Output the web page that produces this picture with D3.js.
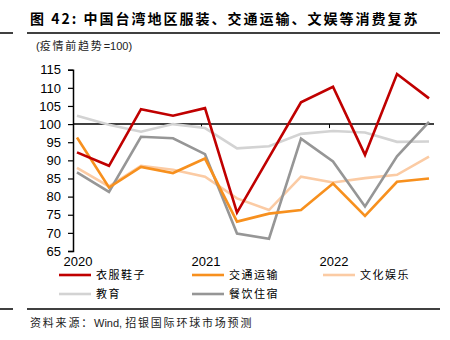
<!DOCTYPE html>
<html>
<head>
<meta charset="utf-8">
<script src="https://cdn.jsdelivr.net/npm/d3@7"></script>
<style>
  body { margin: 0; background: #fff; }
  svg { display: block; font-family: "Liberation Sans", Arial, "Noto Sans CJK SC", sans-serif; }
</style>
</head>
<body>
<script>
// quarters 2020Q1 .. 2022Q4, index 0..11
const quarters = d3.range(12);
const years = ["2020", "2021", "2022"];
const yTicks = [65, 70, 75, 80, 85, 90, 95, 100, 105, 110, 115];

const clothing  = [92.2, 88.5, 104.1, 102.3, 104.4, 75.6, 90.8, 106.0, 110.3, 91.5, 113.8, 107.1];
const transport = [96.3, 82.5, 88.2, 86.5, 90.5, 73.1, 75.3, 76.3, 83.6, 74.7, 84.1, 85.0];
const culture   = [87.9, 82.8, 88.5, 87.4, 85.5, 79.5, 76.3, 85.5, 83.9, 85.1, 86.0, 91.0];
const education = [102.3, 99.8, 97.9, 100.0, 98.9, 93.3, 93.9, 97.3, 98.1, 97.7, 95.1, 95.2];
const catering  = [86.7, 81.3, 96.5, 96.1, 91.7, 69.8, 68.4, 96.0, 89.7, 77.3, 91.1, 100.6];

const seriesNames = ["衣服鞋子", "交通运输", "文化娱乐", "教育", "餐饮住宿"];
const seriesValues = [clothing, transport, culture, education, catering];
const colors = ["#C00000", "#F7901E", "#FBCBA4", "#D3D3D3", "#969696"];

const width = 450, height = 340;
const svg = d3.select("body").append("svg")
  .attr("width", width).attr("height", height);

const cjk = "'Noto Sans CJK SC', sans-serif";
const latin = "'Liberation Sans', Arial, sans-serif";

// title
svg.append("text")
  .attr("x", 30).attr("y", 24)
  .attr("font-size", 14).attr("font-weight", "bold")
  .attr("font-family", cjk)
  .attr("letter-spacing", 2)
  .attr("fill", "#000")
  .text("图 42: 中国台湾地区服装、交通运输、文娱等消费复苏");

// rules
const rule = (y) => {
  svg.append("line").attr("x1", 0).attr("x2", 13).attr("y1", y).attr("y2", y)
    .attr("stroke", "#000").attr("stroke-width", 1.5);
  svg.append("line").attr("x1", 27).attr("x2", 440).attr("y1", y).attr("y2", y)
    .attr("stroke", "#000").attr("stroke-width", 1.5);
};
rule(33);
rule(309);

// mixed text: CJK parts spaced, latin parts not
const mixed = (sel, parts) => {
  parts.forEach(([t, isCjk]) => {
    sel.append("tspan")
      .attr("font-family", isCjk ? cjk : latin)
      .attr("letter-spacing", isCjk ? 1.8 : 0)
      .text(t);
  });
};

const sub = svg.append("text")
  .attr("x", 36).attr("y", 50)
  .attr("font-size", 11).attr("fill", "#222");
mixed(sub, [["(", false], ["疫情前趋势", true], ["=100)", false]]);

// scales
const x = d3.scaleLinear().domain([-0.125, 11]).range([73, 429]);
const y = d3.scaleLinear().domain([65, 115]).range([251, 69.7]);

// y axis
const yAxis = svg.append("g")
  .attr("transform", "translate(73,0)")
  .call(d3.axisLeft(y).tickValues(yTicks).tickSize(5).tickPadding(7));
yAxis.select(".domain").attr("stroke", "#000").attr("stroke-width", 1.5);
yAxis.selectAll(".tick line").attr("stroke", "#000").attr("stroke-width", 1.2);
yAxis.selectAll(".tick text")
  .attr("font-size", 13).attr("fill", "#000")
  .attr("font-family", latin);

// the 100 baseline acting as x axis
const xAxis = svg.append("g")
  .attr("transform", `translate(0,${y(100)})`)
  .call(d3.axisBottom(x).tickValues([-0.125, 3.875, 7.875]).tickSize(4).tickFormat(""));
xAxis.select(".domain").attr("d", `M73,0H434`).attr("stroke", "#000").attr("stroke-width", 1.5);
xAxis.selectAll(".tick line").attr("stroke", "#000");

// year labels at bottom
svg.append("g").selectAll("text")
  .data(years)
  .join("text")
  .attr("x", (d, i) => x(i * 4) + 1)
  .attr("y", 266)
  .attr("text-anchor", "middle")
  .attr("font-size", 13)
  .attr("font-family", latin)
  .attr("fill", "#000")
  .text(d => d);

// lines
const line = d3.line()
  .x((d, i) => x(i))
  .y(d => y(d));

const drawOrder = [3, 2, 4, 1, 0];
svg.append("g").selectAll("path")
  .data(drawOrder)
  .join("path")
  .attr("d", k => line(seriesValues[k]))
  .attr("fill", "none")
  .attr("stroke", k => colors[k])
  .attr("stroke-width", 2.6)
  .attr("stroke-linejoin", "miter");

// legend
const legendPos = [[59, 279], [192, 279], [323, 279], [59, 298], [192, 298]];
const legend = svg.append("g").selectAll("g")
  .data(seriesNames)
  .join("g")
  .attr("transform", (d, i) => `translate(${legendPos[i][0]},${legendPos[i][1]})`);
legend.append("line")
  .attr("x1", 0).attr("x2", 32).attr("y1", -4).attr("y2", -4)
  .attr("stroke", (d, i) => colors[i]).attr("stroke-width", 2.6);
legend.append("text")
  .attr("x", 37).attr("y", 0)
  .attr("font-size", 11).attr("font-family", cjk)
  .attr("letter-spacing", 1.5)
  .attr("fill", "#000")
  .text(d => d);

// source
const src = svg.append("text")
  .attr("x", 30).attr("y", 327)
  .attr("font-size", 11).attr("fill", "#222");
mixed(src, [["资料来源：", true], ["Wind, ", false], ["招银国际环球市场预测", true]]);
</script>
</body>
</html>
